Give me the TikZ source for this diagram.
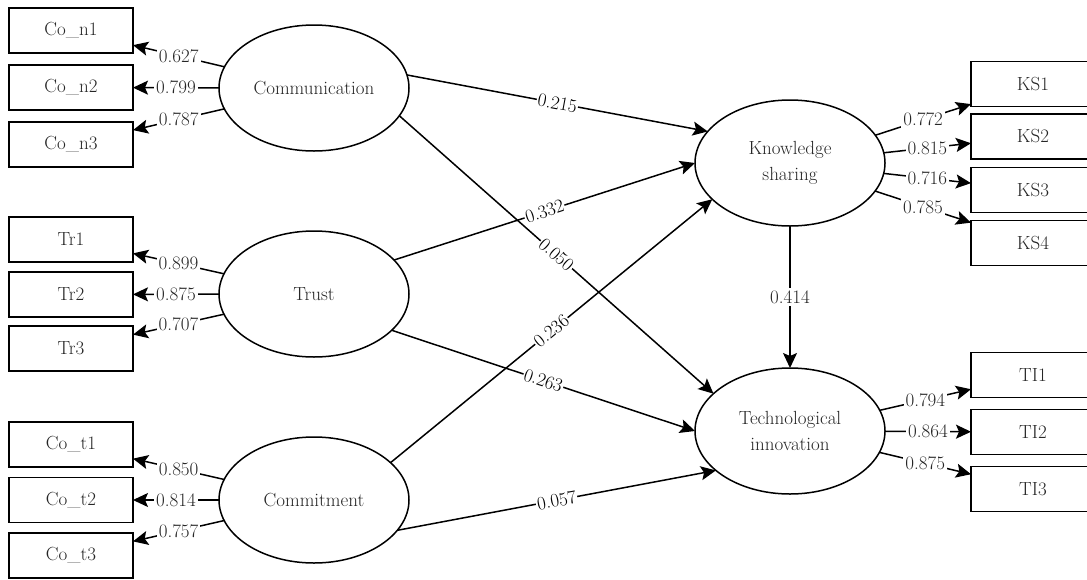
\documentclass[tikz,border=0pt]{standalone}
\usepackage{fontspec}
\usetikzlibrary{shapes.geometric,arrows.meta}
\begin{document}
\begin{tikzpicture}[x=1pt,y=-1pt,
  every node/.style={font=\fontsize{19}{26}\selectfont},
  ind/.style={draw,line width=1.5pt,minimum width=124pt,minimum height=45pt,inner sep=0pt,outer sep=0pt,text=black!85},
  lat/.style={draw,ellipse,line width=1.5pt,minimum width=190pt,minimum height=126pt,inner sep=0pt,outer sep=0pt,align=center,text=black!85},
  arr/.style={line width=1.5pt,-{Stealth[length=15pt,width=14pt,inset=3pt]}},
  ld/.style={midway,fill=white,inner sep=2pt,text=black!85},
  pl/.style={midway,sloped,fill=white,inner sep=1pt,text=black}
]
\useasboundingbox (0,0) rectangle (1087,579);
\clip (0,0) rectangle (1087,579);
% latent variables
\node[lat] (comm) at (314,88) {Communication};
\node[lat] (trust) at (314,294) {Trust};
\node[lat] (cmt) at (314,500) {Commitment};
\node[lat] (ks) at (790,163) {Knowledge\\sharing};
\node[lat] (ti) at (790,431) {Technological\\innovation};
% left indicators
\node[ind] (con1) at (71,30.5) {Co\_n1};
\node[ind] (con2) at (71,87.5) {Co\_n2};
\node[ind] (con3) at (71,144.5) {Co\_n3};
\node[ind] (tr1) at (71,239.5) {Tr1};
\node[ind] (tr2) at (71,294.5) {Tr2};
\node[ind] (tr3) at (71,348.5) {Tr3};
\node[ind] (cot1) at (71,444.5) {Co\_t1};
\node[ind] (cot2) at (71,500) {Co\_t2};
\node[ind] (cot3) at (71,555.5) {Co\_t3};
% right indicators
\node[ind] (ks1) at (1033,84) {KS1};
\node[ind] (ks2) at (1033,136.5) {KS2};
\node[ind] (ks3) at (1033,190) {KS3};
\node[ind] (ks4) at (1033,243) {KS4};
\node[ind] (ti1) at (1033,375) {TI1};
\node[ind] (ti2) at (1033,432) {TI2};
\node[ind] (ti3) at (1033,489) {TI3};
% loadings
\draw[arr] (comm) -- node[ld]{0.627} (con1);
\draw[arr] (comm) -- node[ld]{0.799} (con2);
\draw[arr] (comm) -- node[ld]{0.787} (con3);
\draw[arr] (trust) -- node[ld]{0.899} (tr1);
\draw[arr] (trust) -- node[ld]{0.875} (tr2);
\draw[arr] (trust) -- node[ld]{0.707} (tr3);
\draw[arr] (cmt) -- node[ld]{0.850} (cot1);
\draw[arr] (cmt) -- node[ld]{0.814} (cot2);
\draw[arr] (cmt) -- node[ld]{0.757} (cot3);
\draw[arr] (ks) -- node[ld]{0.772} (ks1);
\draw[arr] (ks) -- node[ld]{0.815} (ks2);
\draw[arr] (ks) -- node[ld]{0.716} (ks3);
\draw[arr] (ks) -- node[ld]{0.785} (ks4);
\draw[arr] (ti) -- node[ld]{0.794} (ti1);
\draw[arr] (ti) -- node[ld]{0.864} (ti2);
\draw[arr] (ti) -- node[ld]{0.875} (ti3);
% structural paths
\draw[arr] (comm.8) -- node[pl]{0.215} (ks.159.5);
\draw[arr] (comm.-18) -- node[pl]{0.050} (ti.154);
\draw[arr] (trust.23) -- node[pl]{0.332} (ks.180);
\draw[arr] (trust.-25) -- node[pl]{0.263} (ti.180);
\draw[arr] (cmt.26) -- node[pl]{0.236} (ks.205);
\draw[arr] (cmt.-20) -- node[pl]{0.057} (ti.208);
\draw[arr] (ks.south) -- node[ld]{0.414} (ti.north);
\end{tikzpicture}
\end{document}
